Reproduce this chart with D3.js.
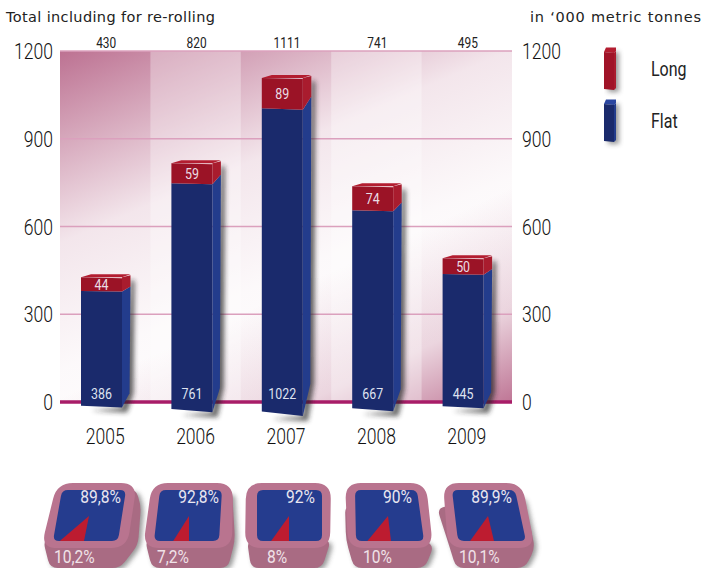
<!DOCTYPE html>
<html><head><meta charset="utf-8">
<script src="https://cdn.jsdelivr.net/npm/d3@7"></script>
<style>
html,body{margin:0;padding:0;background:#fff}
svg{display:block}
text{font-family:Roboto,"Liberation Sans",sans-serif}
text.wide{font-family:"DejaVu Sans",sans-serif}
</style></head><body>
<svg id="c" width="703" height="568"></svg>
<script>
const years = ["2005","2006","2007","2008","2009"];
const flat = [386,761,1022,667,445];
const long = [44,59,89,74,50];
const totals = [430,820,1111,741,495];
const yTicks = [0,300,600,900,1200];
const flatShare = ["89,8%","92,8%","92%","90%","89,9%"];
const longShare = ["10,2%","7,2%","8%","10%","10,1%"];
const longShareValues = [10.2,7.2,8,10,10.1];
const legendItems = ["Long","Flat"];

const svg = d3.select("#c");
const defs = svg.append("defs");
const x = d3.scaleBand().domain(years).range([60,512]);
const y = d3.scaleLinear().domain([0,1200]).range([402,51]);

function sq(sel,f){ sel.each(function(){ this.setAttribute("textLength",this.getComputedTextLength()*f); this.setAttribute("lengthAdjust","spacingAndGlyphs"); }); return sel; }
function grad(id,x1,y1,x2,y2,stops){
  const g=defs.append("linearGradient").attr("id",id)
    .attr("x1",x1).attr("y1",y1).attr("x2",x2).attr("y2",y2);
  stops.forEach(s=>g.append("stop").attr("offset",s[0]).attr("stop-color",s[1]).attr("stop-opacity",s[2]));
}
grad("tl","0","0","0.55","1",[[0,"#b96a8c",0.95],[0.2,"#b96a8c",0.58],[0.42,"#b96a8c",0.17],[0.7,"#b96a8c",0.04],[1,"#b96a8c",0]]);
grad("br","0.4","0","1","1",[[0.55,"#b96a8c",0],[0.8,"#b96a8c",0.28],[1,"#b96a8c",0.92]]);
const blur=defs.append("filter").attr("id","sh").attr("x","-30%").attr("y","-30%").attr("width","170%").attr("height","170%");
blur.append("feGaussianBlur").attr("stdDeviation",2.6);

// background
const bg=svg.append("g");
bg.append("rect").attr("x",60).attr("y",51).attr("width",452).attr("height",351).attr("fill","url(#tl)");
bg.append("rect").attr("x",60).attr("y",51).attr("width",452).attr("height",351).attr("fill","url(#br)");
bg.selectAll("rect.band").data(years.filter((d,i)=>i%2==1)).join("rect").attr("class","band")
  .attr("x",d=>x(d)).attr("y",51).attr("width",x.bandwidth()).attr("height",351)
  .attr("fill","#fff").attr("opacity",0.32);

// grid
svg.append("g").selectAll("line").data(yTicks.slice(1)).join("line")
  .attr("x1",60).attr("x2",512).attr("y1",d=>y(d)).attr("y2",d=>y(d))
  .attr("stroke","#dba0bd").attr("stroke-width",1.4);
svg.append("line").attr("x1",60).attr("x2",512).attr("y1",y(0)).attr("y2",y(0))
  .attr("stroke","#a81d68").attr("stroke-width",3.4);

// axes labels
const tickStyle=(sel)=>sq(sel.attr("font-size",22.5).attr("font-weight",300).attr("fill","#111"),0.78);
tickStyle(svg.append("g").selectAll("text").data(yTicks).join("text")
  .attr("x",53).attr("y",d=>y(d)+8).attr("text-anchor","end").text(d=>d));
tickStyle(svg.append("g").selectAll("text").data(yTicks).join("text")
  .attr("x",522).attr("y",d=>y(d)+8).text(d=>d));
tickStyle(svg.append("g").selectAll("text").data(years).join("text")
  .attr("x",d=>x(d)+x.bandwidth()/2).attr("y",444).attr("text-anchor","middle").text(d=>d));
sq(svg.append("g").selectAll("text").data(totals).join("text")
  .attr("x",(d,i)=>x(years[i])+x.bandwidth()/2+1).attr("y",47.5).attr("text-anchor","middle")
  .attr("font-size",14).attr("fill","#222").text(d=>d),0.85);
svg.append("text").attr("class","wide").attr("x",6).attr("y",22).attr("font-size",14.5).attr("textLength",209).attr("fill","#222").text("Total including for re-rolling");
svg.append("text").attr("class","wide").attr("x",530).attr("y",22).attr("font-size",14.5).attr("textLength",171).attr("fill","#222").text("in ‘000 metric tonnes");

// bars
const barW=41, depth=8.5;
const gBars=svg.append("g");
years.forEach((yr,i)=>{
  const x0=x(yr)+21, x1=x0+barW;
  const total=totals[i];
  const dropL=total*0.0085, dropR=total*0.0125;
  const top=y(total)+1;
  const ymL=y(flat[i])+flat[i]*0.005, ymR=y(flat[i])+flat[i]*0.0065;
  const bL=y(0)+dropL, bR=y(0)+dropR;
  const sideMid=ymR-flat[i]*0.013, sideBot=bR-(total*0.026+3);
  gBars.append("path").attr("filter","url(#sh)").attr("fill","#222").attr("opacity",.7)
    .attr("d",`M${x1+depth},${top+2}L${x1+depth+4},${top+4}L${x1+depth+3},${sideBot}L${x1+5},${bR+5}L${x0+10},${bR+3}L${x1},${bR}Z`);
  // side
  gBars.append("path").attr("fill","#233c8c").attr("d",`M${x1},${ymR}L${x1+depth},${sideMid}L${x1+depth-1},${sideBot}L${x1},${bR}Z`);
  gBars.append("path").attr("fill","#a91c2e").attr("d",`M${x1},${top}L${x1+depth},${top-2}L${x1+depth},${sideMid}L${x1},${ymR}Z`);
  // top
  gBars.append("path").attr("fill","#b31d30").attr("d",`M${x0},${top}L${x0+10},${top-3}L${x1+depth},${top-3}L${x1},${top}Z`);
  // front
  gBars.append("path").attr("fill","#1a2a6c").attr("d",`M${x0},${ymL}L${x1},${ymR}L${x1},${bR}L${x0},${bL}Z`);
  gBars.append("path").attr("fill","#9b1326").attr("d",`M${x0},${top}L${x1},${top+1}L${x1},${ymR}L${x0},${ymL}Z`);
  sq(gBars.append("text").attr("x",(x0+x1)/2).attr("y",(top+ymL)/2+6).attr("text-anchor","middle")
    .attr("font-size",15.5).attr("fill","#eadde4").text(long[i]),0.8);
  sq(gBars.append("text").attr("x",(x0+x1)/2).attr("y",399).attr("text-anchor","middle")
    .attr("font-size",15.5).attr("fill","#dfe2f0").text(flat[i]),0.8);
});

// legend
const legendColors=[["#a01428","#b31d30","#a91c2e"],["#1a2a6c","#2b46a0","#233c8c"]];
legendItems.forEach((t,i)=>{
  const g=svg.append("g").attr("transform",`translate(603,${i*52})`);
  g.append("rect").attr("x",5).attr("y",52).attr("width",11).attr("height",40).attr("fill","#333").attr("opacity",.5).attr("filter","url(#sh)");
  g.append("path").attr("fill",legendColors[i][1]).attr("d","M1,52L3,47.5L13,47.5L13,51L11,53Z");
  g.append("path").attr("fill",legendColors[i][2]).attr("d","M11,53L13,51L13,88L11,90Z");
  g.append("path").attr("fill",legendColors[i][0]).attr("d","M1,52L11,53L11,90L1,89Z");
  sq(svg.append("text").attr("x",651).attr("y",[76,128][i]).attr("font-size",20).attr("fill","#222").text(t),0.8);
});

// share cards
function rp(pts,r){
  const n=pts.length; let d="";
  pts.forEach((p,i)=>{
    const a=pts[(i+n-1)%n], b=pts[(i+1)%n];
    const u=(q)=>{const dx=q[0]-p[0],dy=q[1]-p[1],l=Math.hypot(dx,dy),rr=Math.min(r,l/2);return [p[0]+dx/l*rr,p[1]+dy/l*rr];};
    const s=u(a),e=u(b);
    d+=(i?"L":"M")+s[0]+","+s[1]+"Q"+p[0]+","+p[1]+" "+e[0]+","+e[1];
  });
  return d+"Z";
}
const cardFrames=[
 {o:[[57,483],[137,483],[127,548],[41,548]],b:[[62,490],[126,490],[118,541],[53,541]],block:[[43,540],[50,568],[120,568],[138,545],[141,505],[135,488]],apex:[89,516],skew:-0.2,tx:121,bx:54},
 {o:[[152,483],[233,483],[232,548],[143,548]],b:[[160,490],[222,490],[219,541],[154,541]],block:[[145,540],[152,568],[228,568],[235,540],[232,490]],apex:[189,516],skew:0,tx:219,bx:157},
 {o:[[246,483],[331,483],[330,548],[245,548]],b:[[257,490],[322,490],[322,541],[257,541]],block:[[247,540],[251,568],[322,568],[331,540]],apex:[289,516],skew:0,tx:315,bx:267},
 {o:[[345,483],[426,483],[433,548],[348,548]],b:[[355,490],[417,490],[424,541],[356,541]],block:[[345,505],[346,540],[354,568],[425,568],[434,545]],apex:[388,516],skew:0.12,tx:412,bx:363},
 {o:[[443,483],[522,483],[535,548],[448,548]],b:[[452,490],[515,490],[526,541],[458,541]],block:[[437,508],[449,545],[456,568],[525,568],[535,548],[523,495]],apex:[488,516],skew:0.24,tx:512,bx:459},
];
const arc=d3.arc().innerRadius(0).outerRadius(60);
const gc=svg.append("g");
cardFrames.forEach((c,i)=>{
  const g=gc.append("g");
  g.append("path").attr("d",rp(c.block.map(p=>[p[0]+3,p[1]+2]),8)).attr("fill","#444").attr("opacity",.55).attr("filter","url(#sh)");
  g.append("path").attr("d",rp(c.block,8)).attr("fill","#a96b83");
  g.append("path").attr("d",rp(c.o,16)).attr("fill","#b9748f");
  const id="clip"+i;
  defs.append("clipPath").attr("id",id).append("path").attr("d",rp(c.b,6));
  g.append("path").attr("d",rp(c.b,6)).attr("fill","#253c8e");
  const ang=longShareValues[i]/100*2*Math.PI;
  g.append("g").attr("clip-path",`url(#${id})`).append("path")
    .attr("transform",`matrix(1.3,0,${c.skew},1,${c.apex[0]},${c.apex[1]})`)
    .attr("fill","#bd1c30")
    .attr("d",arc({startAngle:Math.PI,endAngle:Math.PI+ang}));
  sq(g.append("text").attr("x",c.tx).attr("y",503).attr("text-anchor","end").attr("font-size",19).attr("fill","#e9e6f0").text(flatShare[i]),0.82);
  sq(g.append("text").attr("x",c.bx).attr("y",563).attr("font-size",19).attr("fill","#f0e2e8").text(longShare[i]),0.82);
});
</script></body></html>
